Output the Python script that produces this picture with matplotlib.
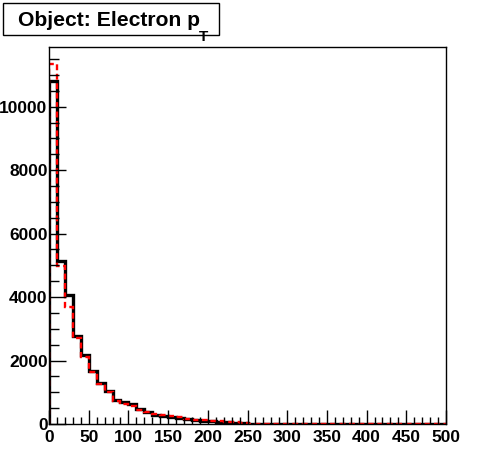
"""
Electron pT histogram, ROOT look.
"""
import numpy as np
import matplotlib
matplotlib.use('Agg')
import matplotlib.pyplot as plt
from matplotlib.ticker import MultipleLocator

plt.rcParams['font.family'] = ['Liberation Sans', 'DejaVu Sans']
plt.rcParams['font.weight'] = 'bold'

# 50 bins of 10 GeV, 0..500
bin_edges = np.arange(0, 510, 10)
black_counts = [10810, 5140, 4060, 2770, 2170, 1680, 1300, 1040, 760, 680,
                630, 470, 380, 275, 245, 225, 190, 150, 125, 105,
                85, 70, 58, 45, 35, 12, 10, 9, 8, 7,
                6, 5, 5, 4, 4, 3, 3, 3, 2, 2,
                2, 2, 1, 1, 1, 1, 1, 1, 1, 1]
red_counts = [11330, 4980, 3700, 2720, 2120, 1640, 1260, 1000, 735, 635,
              580, 440, 390, 315, 270, 250, 210, 165, 140, 118,
              98, 82, 68, 55, 42, 14, 12, 10, 9, 8,
              7, 6, 5, 5, 4, 4, 3, 3, 3, 2,
              2, 2, 2, 1, 1, 1, 1, 1, 1, 1]
title_main = 'Object: Electron p'
title_sub = 'T'

fig = plt.figure(figsize=(4.96, 4.72), dpi=100)
ax = fig.add_axes([49 / 496, 48 / 472, 397 / 496, 377 / 472])

ax.stairs(black_counts, bin_edges, color='black', linewidth=2.4, baseline=0)
ax.stairs(red_counts, bin_edges, color='red', linewidth=1.7,
          linestyle=(0, (2.5, 1.5)), baseline=0)

ax.set_xlim(0, 500)
ax.set_ylim(0, 11880)

ax.xaxis.set_major_locator(MultipleLocator(50))
ax.xaxis.set_minor_locator(MultipleLocator(10))
ax.yaxis.set_major_locator(MultipleLocator(2000))
ax.yaxis.set_minor_locator(MultipleLocator(500))
ax.tick_params(axis='both', which='both', direction='in', top=False, right=False,
               labelsize=12.5, width=1, color='black')
ax.tick_params(axis='x', which='major', length=10, pad=4)
ax.tick_params(axis='x', which='minor', length=5)
ax.tick_params(axis='y', which='major', length=12, pad=1)
ax.tick_params(axis='y', which='minor', length=7)
for lab in ax.get_xticklabels() + ax.get_yticklabels():
    lab.set_fontweight('bold')
for sp in ax.spines.values():
    sp.set_linewidth(1)

# title box
fig.patches.append(plt.Rectangle((3 / 496, 1 - 35 / 472), 216 / 496, 32 / 472,
                                 transform=fig.transFigure, fill=False,
                                 edgecolor='black', linewidth=1))
fig.text(18 / 496, 1 - 26 / 472, title_main, fontsize=15.2, fontweight='bold',
         ha='left', va='baseline')
fig.text(199 / 496, 1 - 41 / 472, title_sub, fontsize=11, fontweight='bold',
         ha='left', va='baseline')

fig.savefig('out.png', dpi=100, facecolor='white')
